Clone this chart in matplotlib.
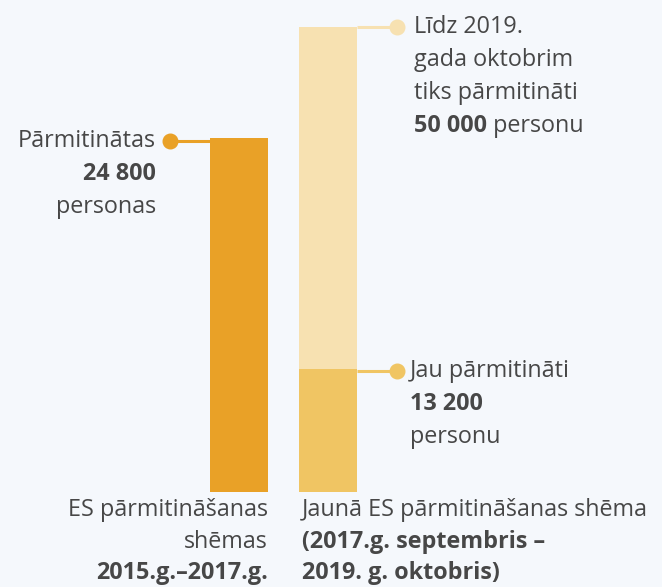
import matplotlib
matplotlib.use("Agg")
import matplotlib.pyplot as plt

# данные
categories = ["ES pārmitināšanas\nshēmas", "Jaunā ES pārmitināšanas shēma"]
periods = ["2015.g.–2017.g.", "(2017.g. septembris –\n2019. g. oktobris)"]
done_values = [24800, 13200]        # уже переселено
target_value = 50000                # план новой схемы
# в оригинальной графике первый столбец нарисован не в масштабе (~38 000 по шкале второго)
drawn_first = 38100

BG = "#f5f8fc"
TXT = "#474747"
C_OLD, C_TARGET, C_DONE = "#e9a127", "#f7e1b1", "#f0c563"
FONT = "Open Sans"

fig = plt.figure(figsize=(6.62, 5.87), dpi=100, facecolor=BG)
ax = fig.add_axes([0, 0, 1, 1], facecolor=BG)
# шкала: 0 на 492 px, 50 000 на 27 px (сверху), столбцы через 89 px
ax.set_ylim(-95 / 465 * target_value, 492 / 465 * target_value)
ax.set_xlim(-239 / 89, (662 - 239) / 89)
ax.axis("off")

W = 58 / 89
ax.bar(0, drawn_first, W, color=C_OLD)
ax.bar(1, target_value, W, color=C_TARGET)
ax.bar(1, done_values[1], W, color=C_DONE)

dx = 40 / 89   # длина выноски
def callout(x0, y, side, color):
    x1 = x0 + side * dx
    ax.plot([x0, x1], [y, y], color=color, lw=2.2, solid_capstyle="butt", zorder=3)
    ax.plot(x1, y, "o", color=color, ms=10.5, zorder=4)
    return x1

py = target_value / 465   # один пиксель по y в единицах данных
fs = 16.8
line = 33 * py

def txt(x, y, s, ha, bold=False):
    return ax.text(x, y, s, ha=ha, va="center", fontsize=fs, color=TXT, family=FONT,
                   fontweight="bold" if bold else "normal")

def fmt(v):
    return f"{v:,}".replace(",", " ")

# левая подпись
y0 = drawn_first - 3 * py
x1 = callout(-W / 2, y0, -1, C_OLD)
xl = x1 - 14 / 89
txt(xl, y0, "Pārmitinātas", "right")
txt(xl, y0 - line, fmt(done_values[0]), "right", bold=True)
txt(xl, y0 - 2 * line, "personas", "right")

# верхняя правая
x1 = callout(1 + W / 2, target_value, 1, C_TARGET)
xr = x1 + 17 / 89
txt(xr, target_value, "Līdz 2019.", "left")
txt(xr, target_value - line, "gada oktobrim", "left")
txt(xr, target_value - 2 * line, "tiks pārmitināti", "left")
t = txt(xr, target_value - 3 * line, fmt(target_value), "left", bold=True)
ax.annotate(" personu", xy=(1, 0.5), xycoords=t, va="center", ha="left",
            fontsize=fs, color=TXT, family=FONT)

# нижняя правая
y0 = done_values[1] - 2 * py
x1 = callout(1 + W / 2, y0, 1, C_DONE)
xr = x1 + 13 / 89
txt(xr, y0, "Jau pārmitināti", "left")
txt(xr, y0 - line, fmt(done_values[1]), "left", bold=True)
txt(xr, y0 - 2 * line, "personu", "left")

# подписи категорий
yb = -18 * py
lh = 31.5 * py
for i, s in enumerate(categories[0].split("\n")):
    txt(W / 2, yb - i * lh, s, "right")
txt(W / 2, yb - 2 * lh, periods[0], "right", bold=True)
xr = 1 - W / 2 + 3 / 89
txt(xr, yb, categories[1], "left")
for i, s in enumerate(periods[1].split("\n")):
    txt(xr, yb - (i + 1) * lh, s, "left", bold=True)

fig.savefig("out.png", dpi=100, facecolor=BG)
